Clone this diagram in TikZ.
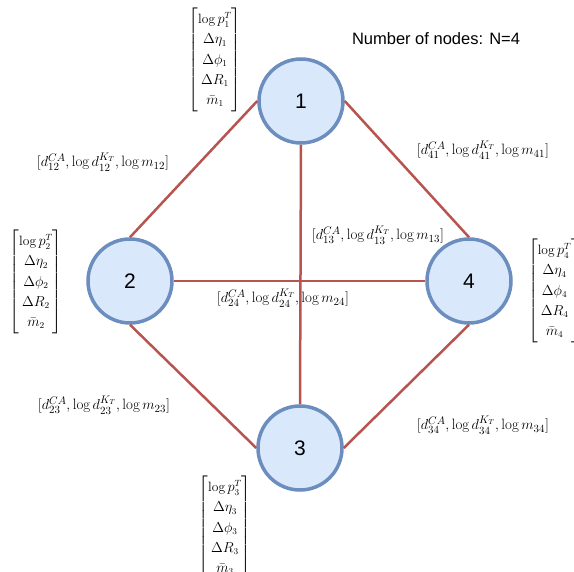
\documentclass[tikz,border=0pt]{standalone}
\usepackage{amsmath}
\usepackage{fontspec}
\newfontfamily\arialfont{Liberation Sans}
\usetikzlibrary{positioning}
\definecolor{NodeFill}{HTML}{DAE8FC}
\definecolor{NodeLine}{HTML}{6C8EBF}
\definecolor{EdgeLine}{HTML}{B85450}
\renewcommand{\arraystretch}{1.22}

\begin{document}
\begin{tikzpicture}[
  x=1pt,y=-1pt,
  vertex/.style={circle,draw=NodeLine,fill=NodeFill,line width=3.5pt,minimum size=84pt,inner sep=0pt,font=\arialfont\fontsize{21}{25}\selectfont},
  link/.style={draw=EdgeLine,line width=2.5pt},
  feat/.style={inner sep=0pt,font=\fontsize{13.5}{16.5}\selectfont},
  edgelbl/.style={inner sep=0pt,font=\fontsize{15}{18}\selectfont}
]
  \useasboundingbox (0,0) rectangle (574,572);
  \clip (0,0) rectangle (574,572);

  \node[vertex] (n1) at (301,101) {1};
  \node[vertex] (n2) at (130,281) {2};
  \node[vertex] (n3) at (300,448) {3};
  \node[vertex] (n4) at (469,281) {4};

  \draw[link] (n1.west) -- (n2.north);
  \draw[link] (n1.east) -- (n4.north);
  \draw[link] (n1.south) -- (n3.north);
  \draw[link] (n2.east) -- (n4.west);
  \draw[link] (n2.south) -- (n3.west);
  \draw[link] (n3.east) -- (n4.south);

  % edge features
  \node[edgelbl] (e12) at (103,162) {$[d^{CA}_{12},\log d^{K_T}_{12},\log m_{12}]$};
  \node[edgelbl] (e41) at (483,150) {$[d^{CA}_{41},\log d^{K_T}_{41},\log m_{41}]$};
  \node[edgelbl] (e13) at (378,235) {$[d^{CA}_{13},\log d^{K_T}_{13},\log m_{13}]$};
  \node[edgelbl] (e24) at (283,298) {$[d^{CA}_{24},\log d^{K_T}_{24},\log m_{24}]$};
  \node[edgelbl] (e23) at (104,405) {$[d^{CA}_{23},\log d^{K_T}_{23},\log m_{23}]$};
  \node[edgelbl] (e34) at (483,425) {$[d^{CA}_{34},\log d^{K_T}_{34},\log m_{34}]$};

  % node features
  \node[feat] (f1) at (215,60) {$\begin{bmatrix}\log p^T_1\\ \Delta\eta_1\\ \Delta\phi_1\\ \Delta R_1\\ \bar{m}_1\end{bmatrix}$};
  \node[feat] (f2) at (36,282) {$\begin{bmatrix}\log p^T_2\\ \Delta\eta_2\\ \Delta\phi_2\\ \Delta R_2\\ \bar{m}_2\end{bmatrix}$};
  \node[feat,anchor=north] (f3) at (225,476) {$\begin{bmatrix}\log p^T_3\\ \Delta\eta_3\\ \Delta\phi_3\\ \Delta R_3\\ \bar{m}_3\end{bmatrix}$};
  \node[feat,anchor=west] (f4) at (528,291) {$\begin{bmatrix}\log p^T_4\\ \Delta\eta_4\\ \Delta\phi_4\\ \Delta R_4\\ \bar{m}_4\end{bmatrix}$};

  \node[font=\arialfont\fontsize{16.5}{20}\selectfont,inner sep=0pt] (title) at (436,39) {Number of nodes: N=4};
\end{tikzpicture}
\end{document}
